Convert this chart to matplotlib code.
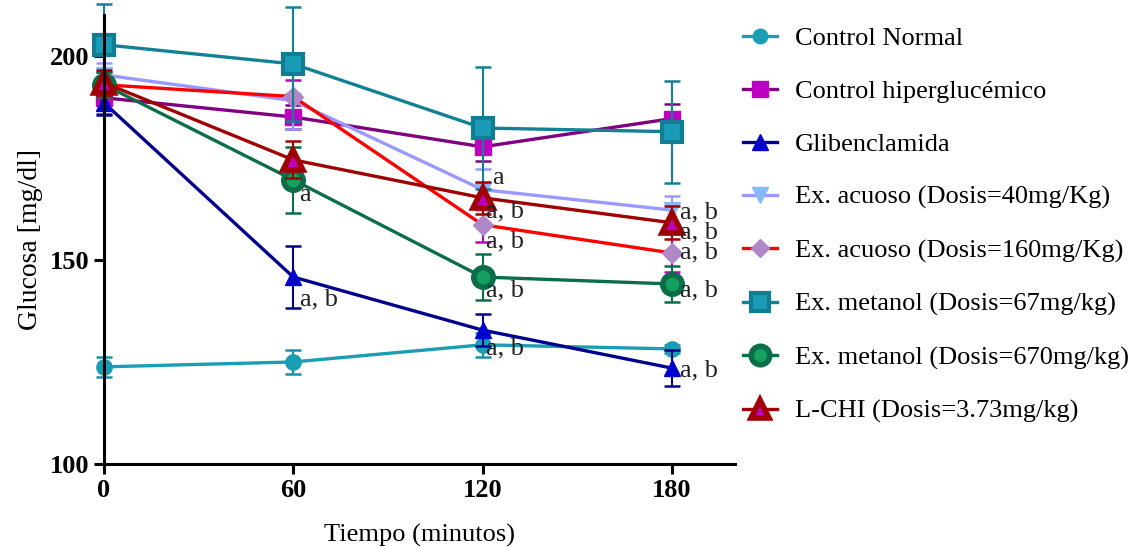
import matplotlib
matplotlib.use('Agg')
import matplotlib.pyplot as plt
import numpy as np

plt.rcParams['font.family'] = ['Liberation Serif', 'DejaVu Serif']

# datos
tiempo = [0, 60, 120, 180]
labels = ['Control Normal', 'Control hiperglucémico', 'Glibenclamida',
          'Ex. acuoso (Dosis=40mg/Kg)', 'Ex. acuoso (Dosis=160mg/Kg)',
          'Ex. metanol (Dosis=67mg/kg)', 'Ex. metanol (Dosis=670mg/kg)',
          'L-CHI (Dosis=3.73mg/kg)']
control_normal = [123.8, 125.0, 129.2, 128.2]
control_normal_err = [2.5, 3.0, 3.0, 1.0]
control_hiper = [189.7, 185.0, 177.7, 184.6]
control_hiper_err = [4.0, 3.0, 3.5, 3.5]
gliben = [188.5, 145.8, 132.8, 123.5]
gliben_err = [3.0, 7.6, 4.0, 4.4]
acuoso40 = [195.3, 189.0, 167.2, 162.2]
acuoso40_err = [3.0, 7.0, 5.0, 3.5]
acuoso160 = [192.9, 190.0, 158.6, 151.7]
acuoso160_err = [3.0, 4.0, 4.2, 4.7]
metanol67 = [202.7, 198.0, 182.3, 181.4]
metanol67_err = [10.0, 14.0, 15.0, 12.5]
metanol670 = [192.9, 169.6, 145.8, 144.1]
metanol670_err = [3.0, 8.0, 5.6, 4.4]
lchi = [193.4, 174.5, 165.2, 159.1]
lchi_err = [3.0, 4.5, 4.0, 4.0]

# anotaciones estadisticas (x, y, texto)
notas_x = [62, 62, 123, 121, 121, 121, 121, 182.5, 182.5, 182.5, 182.5, 182.5]
notas_y = [165.9, 140.2, 170.1, 161.8, 154.4, 142.6, 128.2, 161.5, 156.6, 151.7, 142.6, 123.0]
notas_txt = ['a', 'a, b', 'a', 'a, b', 'a, b', 'a, b', 'a, b',
             'a, b', 'a, b', 'a, b', 'a, b', 'a, b']

series = [control_normal, control_hiper, gliben, acuoso40, acuoso160,
          metanol67, metanol670, lchi]
errores = [control_normal_err, control_hiper_err, gliben_err, acuoso40_err,
           acuoso160_err, metanol67_err, metanol670_err, lchi_err]

# estilo de cada serie: color linea, marcador, cara, borde, tamano, ancho borde, color error
estilos = [
    ('#1b9db3', 'o', '#1b9db3', '#1b9db3', 11, 1, '#1b8fa5'),
    ('#800080', 's', '#c000c0', '#c000c0', 12, 1, '#800080'),
    ('#00008b', '^', '#0000cc', '#0000cc', 12, 1, '#00008b'),
    ('#9999ff', 'v', '#88b8ff', '#88b8ff', 12, 1, '#9999ff'),
    ('#ff0000', 'D', '#b088c8', '#b088c8', 10, 1, '#c000c0'),
    ('#138096', 's', '#1a9cb8', '#107d93', 14, 3, '#138096'),
    ('#0b6e48', 'o', '#13a060', '#0b6e48', 14, 4, '#0b6e48'),
    ('#a00000', '^', '#c000c0', '#a00000', 14, 4, '#a00000'),
]

fig = plt.figure(figsize=(11.41, 5.47), dpi=100)
ax = fig.add_axes([0.0911, 0.1517, 0.553, 0.821])

handles = []
for y, e, lab, st in zip(series, errores, labels, estilos):
    lc, mk, fc, ec, ms, mew, errc = st
    ax.errorbar(tiempo, y, yerr=e, fmt='none', ecolor=errc, elinewidth=1.5,
                capsize=6, capthick=1.8, clip_on=False)
    h, = ax.plot(tiempo, y, color=lc, lw=2.4, marker=mk, markersize=ms,
                 markerfacecolor=fc, markeredgecolor=ec, markeredgewidth=mew,
                 label=lab, clip_on=False)
    handles.append(h)

for x, y, t in zip(notas_x, notas_y, notas_txt):
    ax.text(x, y, t, fontsize=19, ha='left', va='center', color='#222222')

ax.set_xlim(0, 200)
ax.set_ylim(100, 210)
ax.set_xticks([0, 60, 120, 180])
ax.set_yticks([100, 150, 200])
ax.spines['right'].set_visible(False)
ax.spines['top'].set_visible(False)
ax.spines['left'].set_linewidth(2.2)
ax.spines['bottom'].set_linewidth(2.2)
ax.tick_params(width=2.2, length=7, labelsize=19)
for lbl in ax.get_xticklabels() + ax.get_yticklabels():
    lbl.set_fontweight('bold')

ax.set_xlabel('Tiempo (minutos)', fontsize=19, labelpad=16)
ax.set_ylabel('Glucosa [mg/dl]', fontsize=20, labelpad=5)

fig.legend(handles=handles, loc='upper left', bbox_to_anchor=(0.63, 0.995),
           frameon=False, fontsize=19, handlelength=1.3, handletextpad=0.7,
           labelspacing=1.12, markerscale=0.95)

fig.savefig('out.png', dpi=100)
